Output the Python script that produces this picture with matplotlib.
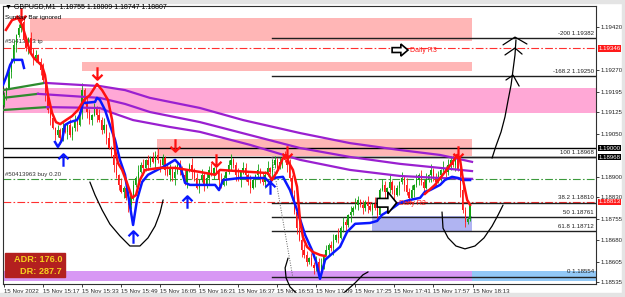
import matplotlib
matplotlib.use("Agg")
import matplotlib.pyplot as plt
from matplotlib.path import Path
from matplotlib.patches import Rectangle, Polygon
import numpy as np

plt.rcParams["font.family"] = ["Liberation Sans", "DejaVu Sans"]

W, H = 625, 297
BASE = 1.18  # prices below are in points (1e-5) above BASE

# ---- M1 candles, 15:01 .. 18:12 ----
closes = [1184, 1208, 1264, 1306, 1358, 1392, 1417, 1437, 1375, 1347,
          1382, 1340, 1312, 1323, 1299, 1271, 1236, 1184, 1132, 1104,
          1070, 1045, 1063, 1035, 1070, 1056, 1080, 1045, 1070, 1097,
          1080, 1125, 1201, 1160, 1125, 1097, 1115, 1139, 1115, 1097,
          1063, 1080, 1035, 1000, 976, 941, 907, 872, 848, 861,
          827, 802, 834, 872, 896, 917, 941, 931, 959, 941,
          965, 952, 976, 959, 941, 965, 924, 907, 931, 896,
          917, 941, 924, 907, 882, 924, 941, 917, 896, 861,
          889, 907, 872, 896, 924, 907, 931, 917, 889, 872,
          896, 917, 941, 959, 941, 907, 889, 917, 931, 907,
          882, 861, 889, 907, 924, 896, 882, 907, 931, 917,
          941, 959, 931, 952, 965, 959, 941, 896, 837, 778,
          722, 681, 646, 629, 605, 618, 595, 584, 605, 577,
          595, 629, 646, 664, 653, 681, 698, 688, 722, 743,
          733, 768, 778, 792, 802, 820, 802, 792, 813, 799,
          785, 806, 792, 768, 854, 872, 848, 861, 882, 854,
          837, 861, 882, 896, 872, 848, 827, 854, 872, 889,
          907, 882, 861, 889, 907, 924, 896, 882, 907, 924,
          931, 917, 941, 959, 941, 965, 924, 854, 785, 743,
          755, 807]
first_open = 1150
hi_wick = [int(c) * 4 for c in
           "3152413263152413621531426315243162531425361524316253142635142536"
           "1425316243512634152436152631452361542631524361532416253416253142"
           "5361423516243152631425316425316243152634152436152431625341625318"]
lo_wick = [int(c) * 4 for c in
           "2415362413526314253614253162435162534162435126341526342516342153"
           "6241536241352631425361425316243516253416243512634152634251634215"
           "3624153624135263142536142531624351625341624351263415263425163422"]

# ---- indicator lines (bar index, points) ----
red_x = [0.8, 3.3, 5.7, 7.4, 9.0, 10.7, 12.3, 13.9, 15.6, 16.8, 18.0, 19.7, 21.3, 23.0, 25.4,
         27.9, 30.3, 32.8, 35.2, 38.1, 40.2, 42.6, 44.3, 45.5, 46.7, 48.4, 50.4, 52.5, 54.1,
         55.7, 57.8, 63.9, 70.1, 80.3, 86.5, 88.5, 108.2, 109.8, 112.3, 114.3, 115.6, 116.8,
         118.4, 120.1, 121.3, 122.5, 124.2, 126.6, 129.5, 131.6]
red_y = [1410, 1444, 1451, 1427, 1382, 1333, 1312, 1299, 1285, 1253, 1184, 1122, 1090, 1083, 1097,
         1111, 1132, 1167, 1184, 1222, 1201, 1167, 1097, 993, 948, 924, 879, 827, 837,
         889, 924, 931, 931, 917, 907, 924, 913, 889, 924, 965, 976, 948,
         924, 865, 750, 691, 657, 639, 629, 625]
red2_x = [172.5, 176.6, 180.7, 183.6, 185.7, 186.9, 188.1, 189.8, 191.0]
red2_y = [841, 872, 917, 948, 976, 959, 889, 820, 803]

blue1_x = [-0.4, 1.2, 2.5, 3.7, 7.4, 8.2]
blue1_y = [1219, 1253, 1288, 1306, 1306, 1278]
blue2_x = [20.9, 22.1, 23.8, 25.0, 27.0, 29.9, 31.1, 32.4, 37.3, 38.1, 39.3, 41.4, 43.4, 45.5,
           47.5, 49.6, 51.2, 52.9, 54.5, 56.6, 59.0, 61.9, 66.0, 70.1, 72.1, 74.2, 76.2, 86.5,
           88.1, 89.8, 96.7, 107.0, 109.0, 110.2, 114.3, 117.2, 120.1, 123.4, 126.2, 127.9,
           129.5, 131.6, 134.4, 137.7, 140.6, 143.9, 150.0, 152.9, 154.9, 158.2, 162.3, 166.4,
           170.5, 172.5, 174.6, 178.7, 180.7, 183.6, 186.1, 187.7, 191.0]
blue2_y = [1021, 1004, 1028, 1080, 1090, 1097, 1115, 1156, 1160, 1174, 1167, 1132, 1080, 1028,
           959, 907, 820, 733, 820, 882, 907, 920, 938, 959, 941, 879, 872, 872,
           854, 889, 896, 896, 879, 896, 900, 854, 785, 698, 646, 605,
           546, 612, 633, 657, 709, 737, 740, 747, 768, 785, 810, 820,
           827, 848, 854, 872, 889, 900, 896, 889, 889]

# three moving averages: green part then purple part
ma1_g = ([-0.4, 16.8], [1201, 1226])
ma1_p = ([16.8, 39.3, 49.6, 59.8, 80.3, 98.0, 121.3, 141.8, 162.3, 178.7, 191.8],
         [1226, 1215, 1201, 1174, 1139, 1097, 1052, 1017, 993, 976, 952])
ma2_g = ([-0.4, 13.9], [1174, 1188])
ma2_p = ([13.9, 39.3, 49.6, 59.8, 80.3, 100.8, 121.3, 141.8, 162.3, 178.7, 191.8],
         [1188, 1174, 1153, 1125, 1090, 1045, 1000, 969, 945, 931, 920])
ma3_g = ([-0.4, 17.6], [1132, 1142])
ma3_p = ([17.6, 39.3, 43.4, 52.9, 68.0, 80.3, 100.8, 121.3, 141.8, 162.3, 178.7, 191.8],
         [1142, 1139, 1125, 1097, 1073, 1056, 1011, 959, 924, 903, 896, 893])

# signal arrows
sell_x = [7, 38, 70, 87, 116, 186]
sell_y = [1465, 1260, 1011, 959, 986, 986]
buy_x = [24, 53, 75, 109]
buy_y = [959, 691, 813, 861]

# price levels
fibo_levels = [1382, 1250, 968, 810, 761, 712, 554]
fibo_names = ["-200", "-168.2", "100", "38.2", "50", "61.8", "0"]
tp_price = 1346
bid_price = 813
buy_price = 891
round_levels = [1000, 968]
axis_ticks = [1420, 1270, 1195, 1125, 1050, 900, 830, 755, 680, 605, 535]
time_labels = ["15 Nov 2022", "15 Nov 15:17", "15 Nov 15:33", "15 Nov 15:49", "15 Nov 16:05",
               "15 Nov 16:21", "15 Nov 16:37", "15 Nov 16:53", "15 Nov 17:09", "15 Nov 17:25",
               "15 Nov 17:41", "15 Nov 17:57", "15 Nov 18:13"]

# hand drawn strokes (bar, points)
strokes = [
    ([35.2, 37.3, 40.2, 43.4, 47.5, 51.6, 55.7, 59.0, 61.9, 63.9, 65.2],
     [882, 837, 785, 736, 695, 660, 660, 688, 729, 774, 820]),
    ([116.4, 115.2, 115.6, 117.2, 120.1, 124.2, 129.5, 135.7, 139.8, 143.9, 147.1, 149.2],
     [618, 584, 549, 518, 494, 476, 462, 476, 501, 532, 560, 570]),
    ([179.5, 179.9, 182.0, 185.2, 188.9, 193.0, 196.7, 200.0, 202.5, 204.5],
     [778, 722, 688, 660, 650, 660, 688, 729, 768, 802]),
    ([200.0, 201.6, 203.7, 205.3, 206.6, 207.8, 208.6, 209.4, 209.8],
     [965, 1007, 1056, 1108, 1167, 1219, 1271, 1323, 1375]),
    ([204.5, 209.4, 214.3], [1358, 1385, 1361]),
    ([205.3, 209.4, 212.3], [1323, 1347, 1326]),
    ([205.7, 208.6, 211.1], [1236, 1253, 1215]),
]

FS = 4.4


def P(v):
    return BASE + np.asarray(v) / 1e5


fig = plt.figure(figsize=(W / 100, H / 100), dpi=100)
fig.patch.set_facecolor("white")
ax = fig.add_axes([3 / W, 13 / H, 593 / W, 278 / H])
ax.set_xlim(-0.41, 242.6)
ax.set_ylim(1.185281, 1.194929)
ax.set_facecolor("white")

# zones
ax.add_patch(Rectangle((10.7, P(1371)), 181.1, 80e-5, color="#ffb6b6", zorder=1, lw=0))
ax.add_patch(Rectangle((32.0, P(1267)), 159.8, 32e-5, color="#ffb6b6", zorder=1, lw=0))
ax.add_patch(Rectangle((-0.41, P(1122)), 243.1, 86e-5, color="#ffa8d6", zorder=1, lw=0))
ax.add_patch(Rectangle((62.7, P(972)), 129.1, 59e-5, color="#ffb6b6", zorder=1, lw=0))
ax.add_patch(Rectangle((150.8, P(712)), 41.0, 52e-5, color="#b0b4f2", zorder=1, lw=0))
ax.add_patch(Rectangle((-0.41, P(539)), 192.2, 34e-5, color="#d898f4", zorder=1, lw=0))
ax.add_patch(Rectangle((191.8, P(539)), 51.0, 34e-5, color="#92c8f6", zorder=1, lw=0))

# horizontal lines
ax.axhline(P(tp_price), color="#ff3030", lw=0.8, dashes=(7, 2, 1.5, 2), zorder=2)
ax.axhline(P(bid_price), color="#ff3030", lw=0.8, dashes=(7, 2, 1.5, 2), zorder=2)
ax.axhline(P(buy_price), color="#3c9a3c", lw=0.8, dashes=(7, 2, 1.5, 2), zorder=2)
for lv in round_levels:
    ax.axhline(P(lv), color="black", lw=1.0, zorder=2)
for lv, nm in zip(fibo_levels, fibo_names):
    ax.plot([109.8, 242.6], [P(lv)] * 2, color="#202020", lw=1.0, zorder=2)
    ax.text(241.8, P(lv) + 8e-5, "%s %.5f" % (nm, P(lv)), fontsize=FS, ha="right",
            va="bottom", color="#202020", zorder=6)
ax.plot([109.8, 118.3], [P(968), P(554)], color="#606060", lw=0.7, ls=(0, (1, 1.5)), zorder=2)

# candles
opens = [first_open] + closes[:-1]
opens[-1] = 755
for i, (o, c) in enumerate(zip(opens, closes)):
    hi = max(o, c) + hi_wick[i]
    lo = min(o, c) - lo_wick[i]
    if i == len(closes) - 1:
        hi, lo = 809, 747
    col = "#10a010" if c >= o else "#ff1a1a"
    ax.vlines(i, P(lo), P(hi), color=col, lw=0.6, zorder=3)
    ax.bar(i, P(max(o, c)) - P(min(o, c)) + 1e-6, bottom=P(min(o, c)), width=0.55,
           color=col, lw=0, zorder=3)

# moving averages
for g, p in [(ma1_g, ma1_p), (ma2_g, ma2_p), (ma3_g, ma3_p)]:
    ax.plot(g[0], P(g[1]), color="#2e8b2e", lw=1.6, zorder=4)
    ax.plot(p[0], P(p[1]), color="#9a20d0", lw=1.6, zorder=4)

ax.plot(blue1_x, P(blue1_y), color="#0a18ff", lw=1.8, zorder=4)
ax.plot(blue2_x, P(blue2_y), color="#0a18ff", lw=1.8, zorder=4)
ax.plot(red_x, P(red_y), color="#ff1010", lw=1.8, zorder=4)
ax.plot(red2_x, P(red2_y), color="#ff1010", lw=1.8, zorder=4)

down = Path([(0, 1), (0, -1), (-0.8, -0.2), (0, -1), (0.8, -0.2)],
            [Path.MOVETO, Path.LINETO, Path.MOVETO, Path.LINETO, Path.LINETO])
up = Path([(0, -1), (0, 1), (-0.8, 0.2), (0, 1), (0.8, 0.2)],
          [Path.MOVETO, Path.LINETO, Path.MOVETO, Path.LINETO, Path.LINETO])
ax.plot(sell_x, P(sell_y), ls="none", marker=down, ms=9, mfc="none", mec="#ff1010", mew=1.6, zorder=5)
ax.plot(buy_x, P(buy_y), ls="none", marker=up, ms=9, mfc="none", mec="#0a18ff", mew=1.6, zorder=5)

# hand drawn strokes
for sx, sy in strokes:
    ax.plot(sx, P(sy), color="black", lw=0.9, zorder=6, clip_on=False, solid_capstyle="round")


def hollow_arrow(cx, cy, w, h):
    pts = [(-0.5, -0.2), (0.05, -0.2), (0.05, -0.5), (0.5, 0), (0.05, 0.5), (0.05, 0.2), (-0.5, 0.2)]
    return Polygon([(cx + a * w, P(cy) + b * h) for a, b in pts], closed=True,
                   fc="white", ec="black", lw=1.2, zorder=6)


ax.add_patch(hollow_arrow(162.3, 1340, 6.5, 42e-5))
ax.add_patch(hollow_arrow(156.9, 810, 8.0, 75e-5))
ax.text(166.5, P(1340), "Daily R3", fontsize=5, color="#ff1a1a", va="center", zorder=6)
ax.text(162.0, P(808), "Daily R2", fontsize=5, color="#ff1a1a", va="center", zorder=6)

# texts
ax.text(0.5, P(1360), "#50413963 tp", fontsize=FS, color="#303030", va="bottom", zorder=2)
ax.text(0.5, P(900), "#50413963 buy 0.20", fontsize=FS, color="#303030", va="bottom", zorder=2)
fig.text(5 / W, 1 - 7 / H, "\u25bc GBPUSD,M1  1.18755 1.18809 1.18747 1.18807", fontsize=5.0,
         va="center", color="black")
fig.text(5 / W, 1 - 18 / H, "Sunday Bar ignored", fontsize=4.6, va="center", color="black")

fig.patches.append(Rectangle((5 / W, 1 - 277 / H), 60 / W, 24 / H, transform=fig.transFigure,
                             color="#b3201f", zorder=7))
fig.text(62 / W, 1 - 259 / H, "ADR: 176.0", fontsize=6.6, fontweight="bold", color="#f5d020",
         ha="right", va="center", zorder=8)
fig.text(62 / W, 1 - 271 / H, "DR: 287.7", fontsize=6.6, fontweight="bold", color="#f5d020",
         ha="right", va="center", zorder=8)

# axes / ticks
ax.yaxis.tick_right()
ax.set_yticks(P(axis_ticks))
ax.set_yticklabels(["%.5f" % v for v in P(axis_ticks)], fontsize=FS)
ax.set_xticks(range(0, 193, 16))
ax.set_xticklabels(time_labels, fontsize=FS, ha="left")
ax.tick_params(axis="both", length=2, width=0.6, pad=1.5, colors="#202020")
for sp in ax.spines.values():
    sp.set_color("#303030")
    sp.set_linewidth(0.8)

for val, fc in [(tp_price, "#ff1a1a"), (bid_price, "#ff1a1a"), (1000, "black"), (968, "black")]:
    ax.text(1.004, P(val), "%.5f" % P(val), transform=ax.get_yaxis_transform(), fontsize=FS,
            color="white", va="center", ha="left", zorder=9, clip_on=False,
            bbox=dict(boxstyle="square,pad=0.12", fc=fc, ec="none"))

# window chrome
fig.patches.append(Rectangle((0, 1 - 3 / H), 1, 3 / H, transform=fig.transFigure, color="#e4e4e4"))
fig.patches.append(Rectangle((0, 0), 1, 4 / H, transform=fig.transFigure, color="#e4e4e4"))
fig.patches.append(Rectangle((622 / W, 0), 3 / W, 1, transform=fig.transFigure, color="#e4e4e4"))

fig.savefig("out.png", dpi=100, facecolor="white")
